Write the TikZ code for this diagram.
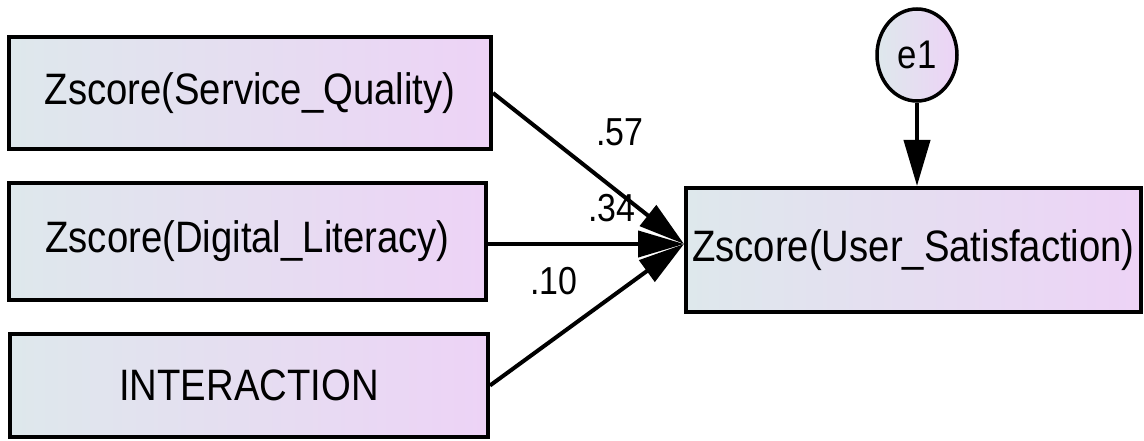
\documentclass[tikz,border=0pt]{standalone}
\usepackage{fontspec}
\setmainfont[FakeStretch=0.87]{Liberation Sans}
\usetikzlibrary{arrows.meta}
\definecolor{gleft}{RGB}{222,232,236}
\definecolor{gright}{RGB}{237,211,246}
\tikzset{
  var/.style={draw=black, line width=4pt, left color=gleft, right color=gright,
    inner sep=0pt, font=\fontsize{44}{50}\selectfont},
  err/.style={draw=black, line width=3.5pt, ellipse, left color=gleft, right color=gright,
    inner sep=0pt, minimum width=80pt, minimum height=92pt, font=\fontsize{40}{46}\selectfont},
  path/.style={line width=4pt, -{Triangle[length=46pt,width=26pt]}},
  coef/.style={font=\fontsize{39}{44}\selectfont, inner sep=0pt}
}
\usetikzlibrary{shapes.geometric}
\begin{document}
\begin{tikzpicture}[x=1pt,y=-1pt]
\useasboundingbox (0,0) rectangle (1144,441);
\fill[white] (0,0) rectangle (1144,441);
\node[var, minimum width=482pt, minimum height=112pt] (b1) at (250,93) {Zscore(Service\_Quality)};
\node[var, minimum width=477pt, minimum height=117pt] (b2) at (247.5,241.5) {Zscore(Digital\_Literacy)};
\node[var, minimum width=478pt, minimum height=103pt] (b3) at (249,385.5) {INTERACTION};
\node[var, minimum width=455pt, minimum height=124pt] (tgt) at (913.5,250) {Zscore(User\_Satisfaction)};
\node[err] (e1) at (917,55) {e1};
\coordinate (tip) at ([yshift=6pt]tgt.west);
\draw[path] (b1.east) -- (tip);
\draw[path] (b2.east |- tip) -- (tip);
\draw[path] (b3.east) -- (tip);
\draw[path] (e1.south) -- (e1.south |- tgt.north);
\node[coef] (c1) at (620,132) {.57};
\node[coef] (c2) at (612,208) {.34};
\node[coef] (c3) at (554,281) {.10};
\end{tikzpicture}
\end{document}
